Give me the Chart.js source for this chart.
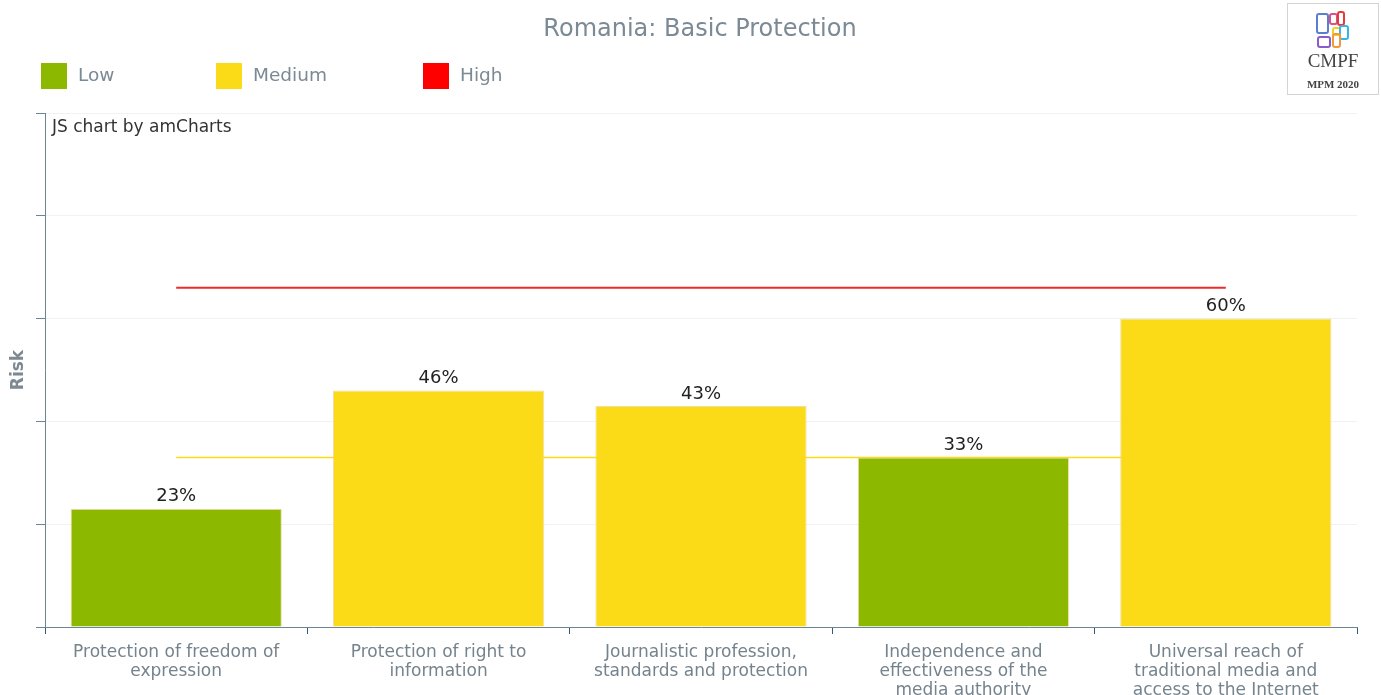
<!DOCTYPE html>
<html>
<head>
<meta charset="utf-8">
<title>Romania: Basic Protection</title>
<script src="https://cdn.jsdelivr.net/npm/chart.js@4.4.0/dist/chart.umd.min.js"></script>
<style>
  html, body { margin: 0; padding: 0; background: #fff; }
  #wrap { position: relative; width: 1381px; height: 695px; }
</style>
</head>
<body>
<div id="wrap"><canvas id="riskChart"></canvas></div>
<script>
'use strict';

// indicator names, one line per array entry
var areas = [
  ['Protection of freedom of', 'expression'],
  ['Protection of right to', 'information'],
  ['Journalistic profession,', 'standards and protection'],
  ['Independence and', 'effectiveness of the', 'media authority'],
  ['Universal reach of', 'traditional media and', 'access to the Internet']
];
var riskValues = [23, 46, 43, 33, 60];
// band limits: up to 33 low, up to 66 medium, above that high
var mediumLine = [33, 33, 33, 33, 33];
var highLine = [66, 66, 66, 66, 66];
var riskLevels = ['Low', 'Medium', 'High'];
var levelColors = ['#8cb900', '#fbdb18', '#ff0000'];
var yTicks = [0, 20, 40, 60, 80, 100];

var FONT = '"DejaVu Sans", Verdana, sans-serif';
var GREY = '#7b8a95';
var AXIS = '#6d8494';

var barColors = riskValues.map(function (v, i) {
  if (v <= mediumLine[i]) return levelColors[0];
  if (v <= highLine[i]) return levelColors[1];
  return levelColors[2];
});

// title, legend, logo and value labels
var decorations = {
  id: 'decorations',
  afterDraw: function (chart) {
    var ctx = chart.ctx;
    ctx.save();

    ctx.fillStyle = GREY;
    ctx.font = '24px ' + FONT;
    ctx.textAlign = 'center';
    ctx.textBaseline = 'middle';
    ctx.fillText('Romania: Basic Protection', 700, 30);

    var legendX = [41, 216, 423];
    ctx.textAlign = 'left';
    ctx.font = '18.5px ' + FONT;
    for (var i = 0; i < riskLevels.length; i++) {
      ctx.fillStyle = levelColors[i];
      ctx.fillRect(legendX[i], 63, 26, 26);
      ctx.fillStyle = GREY;
      ctx.fillText(riskLevels[i], legendX[i] + 37, 76);
    }

    ctx.fillStyle = '#333';
    ctx.font = '17px ' + FONT;
    ctx.fillText('JS chart by amCharts', 52, 128);

    // value above each bar
    var meta = chart.getDatasetMeta(0);
    ctx.fillStyle = '#222';
    ctx.font = '18px ' + FONT;
    ctx.textAlign = 'center';
    ctx.textBaseline = 'bottom';
    meta.data.forEach(function (bar, j) {
      ctx.fillText(riskValues[j] + '%', bar.x, bar.y - 3);
    });

    // CMPF badge
    ctx.strokeStyle = '#d4d4d4';
    ctx.lineWidth = 1;
    ctx.strokeRect(1287.5, 3.5, 91, 91);
    var boxes = [
      ['#5b7fd0', 1317, 14, 11, 19],
      ['#d9508a', 1330, 14, 7, 10],
      ['#e8383a', 1338, 12, 6, 13],
      ['#f2d02a', 1333, 28, 7, 7],
      ['#35b6e6', 1340, 26, 8, 13],
      ['#f29a3a', 1333, 34, 7, 13],
      ['#8a5cc8', 1318, 37, 12, 10]
    ];
    ctx.lineWidth = 2;
    boxes.forEach(function (b) {
      ctx.strokeStyle = b[0];
      ctx.beginPath();
      ctx.roundRect(b[1], b[2], b[3], b[4], 2);
      ctx.stroke();
    });
    ctx.fillStyle = '#444';
    ctx.textBaseline = 'middle';
    ctx.font = '19px "Liberation Serif", serif';
    ctx.fillText('CMPF', 1333, 62);
    ctx.font = 'bold 11px "Liberation Serif", serif';
    ctx.fillText('MPM 2020', 1333, 85);

    ctx.restore();
  }
};

var ctx = document.getElementById('riskChart').getContext('2d');
var riskChart = new Chart(ctx, {
  type: 'bar',
  data: {
    labels: areas,
    datasets: [{
      label: 'Risk',
      data: riskValues,
      backgroundColor: barColors,
      borderColor: 'rgba(240, 205, 130, 0.7)',
      borderWidth: 1,
      categoryPercentage: 1,
      barPercentage: 0.805,
      order: 1
    }, {
      type: 'line',
      label: 'Medium',
      data: mediumLine,
      borderColor: levelColors[1],
      borderWidth: 1.5,
      pointRadius: 0,
      order: 2
    }, {
      type: 'line',
      label: 'High',
      data: highLine,
      borderColor: '#ee2a2a',
      borderWidth: 2,
      pointRadius: 0,
      order: 2
    }]
  },
  options: {
    responsive: true,
    maintainAspectRatio: false,
    animation: false,
    layout: { padding: { top: 113, right: 24, left: 0, bottom: 0 } },
    plugins: {
      legend: { display: false },
      title: { display: false },
      tooltip: { enabled: false }
    },
    scales: {
      x: {
        grid: { drawOnChartArea: false, tickLength: 7, tickColor: '#2d5d7b' },
        border: { color: AXIS },
        ticks: {
          color: '#75838d',
          font: { family: FONT, size: 17, lineHeight: 1.12 },
          padding: 9,
          autoSkip: false,
          maxRotation: 0
        },
        afterFit: function (scale) { scale.height = 68; }
      },
      y: {
        min: 0,
        max: 100,
        z: 1,
        afterBuildTicks: function (scale) {
          scale.ticks = yTicks.map(function (v) { return { value: v }; });
        },
        grid: { color: 'rgba(230, 230, 230, 0.5)', tickLength: 9, tickColor: AXIS },
        border: { color: AXIS },
        ticks: { display: false },
        title: {
          display: true,
          text: 'Risk',
          color: GREY,
          font: { family: FONT, size: 17, weight: 'bold' },
          padding: { top: 8, bottom: 0 }
        },
        afterFit: function (scale) { scale.width = 45; }
      }
    }
  },
  plugins: [decorations]
});
</script>
</body>
</html>
